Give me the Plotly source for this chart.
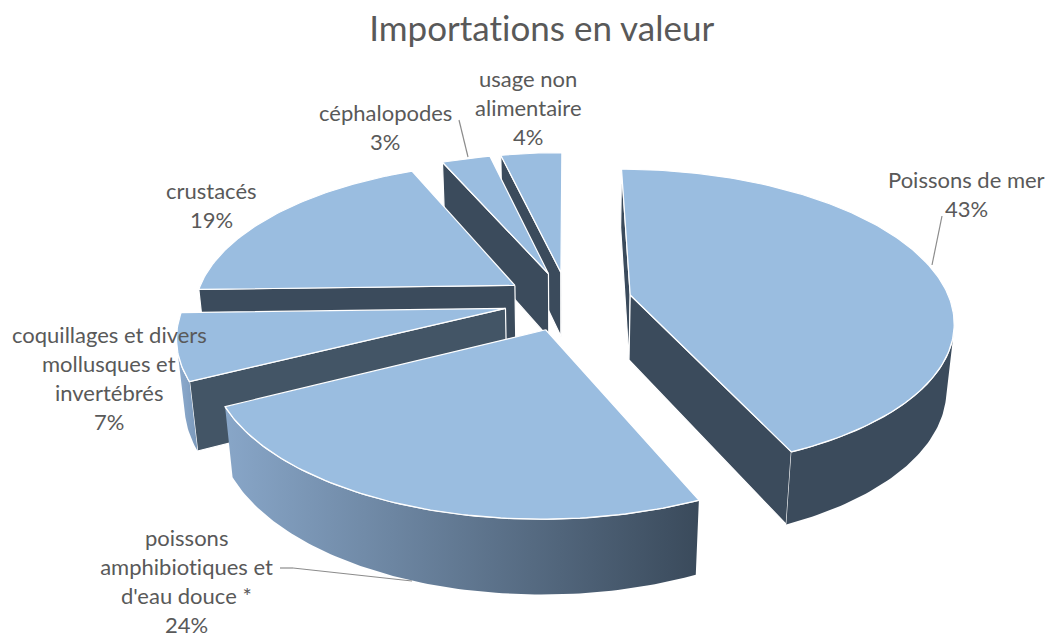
import math
import plotly.graph_objects as go

categories = ["Poissons de mer", "poissons amphibiotiques et d'eau douce *",
              "coquillages et divers mollusques et invertébrés", "crustacés",
              "céphalopodes", "usage non alimentaire"]
values = [43.4, 24.15, 7.0, 18.9, 2.9, 3.65]
label_lines = [["Poissons de mer"], ["poissons", "amphibiotiques et", "d'eau douce *"],
               ["coquillages et divers", "mollusques et", "invertébrés"], ["crustacés"],
               ["céphalopodes"], ["usage non", "alimentaire"]]
label_pos = [(966, 179), (186, 537), (109, 334), (211, 190), (385, 112), (528, 78)]
title = "Importations en valeur"

W, H = 1051, 636
CX, CY, R = 568, 301, 320
TILT = math.radians(27.55)
F = 5.44
HEIGHT = 0.235
EXPLODE = 0.2
START = 0.0
TOP = "#9abde0"
WALL = "#3b4b5c"
WHITE = "#ffffff"
TXT = "#595959"
draw_order = [5, 4, 3, 2, 0, 1]
outer_grad = {1: ("#88a6c8", "#3a4a5b"), 2: ("#8eaccf", "#7a98ba"), 0: (WALL, WALL),
              3: (WALL, WALL), 4: (WALL, WALL), 5: (WALL, WALL)}
radial_col = {2: "#435566"}

cam = (0.0, -F * math.cos(TILT), F * math.sin(TILT))


def proj(x, y, z):
    Y = y * math.sin(TILT) + z * math.cos(TILT)
    D = y * math.cos(TILT) - z * math.sin(TILT)
    s = F / (F + D)
    return CX + R * x * s, CY - R * Y * s


def path(pts):
    xy = [proj(*p) for p in pts]
    return [a for a, _ in xy], [b for _, b in xy]


fig = go.Figure()


def poly(pts, color, line=WHITE, lw=1.2, grad=None, name=""):
    x, y = path(pts)
    kw = dict(fillcolor=color)
    if grad:
        kw = dict(fillgradient=dict(type="horizontal", colorscale=[[0, grad[0]], [1, grad[1]]]))
    fig.add_trace(go.Scatter(x=x + x[:1], y=y + y[:1], mode="lines", fill="toself",
                             line=dict(color=line, width=lw), hoverinfo="skip", name=name,
                             showlegend=False, **kw))


total = sum(values)
cum = 0
wedges = []
for v in values:
    a0 = START + cum / total * 2 * math.pi
    cum += v
    a1 = START + cum / total * 2 * math.pi
    wedges.append((a0, a1))

for i in draw_order:
    a0, a1 = wedges[i]
    mid = (a0 + a1) / 2
    ox, oy = EXPLODE * math.sin(mid), EXPLODE * math.cos(mid)
    n = max(8, int((a1 - a0) * 60))
    angs = [a0 + (a1 - a0) * k / n for k in range(n + 1)]
    arc = [(ox + math.sin(a), oy + math.cos(a)) for a in angs]
    apex = (ox, oy)

    def faces(px, py, nx, ny):
        return (cam[0] - px) * nx + (cam[1] - py) * ny > 0

    col = radial_col.get(i, WALL)
    # radial walls
    if faces(ox, oy, -math.cos(a0), math.sin(a0)):
        p = arc[0]
        poly([(*apex, 0), (*p, 0), (*p, -HEIGHT), (*apex, -HEIGHT)], col, name=categories[i])
    if faces(ox, oy, math.cos(a1), -math.sin(a1)):
        p = arc[-1]
        poly([(*apex, 0), (*p, 0), (*p, -HEIGHT), (*apex, -HEIGHT)], col, name=categories[i])
    # outer wall
    vis = [p for p, a in zip(arc, angs) if faces(p[0], p[1], math.sin(a), math.cos(a))]
    if len(vis) > 1:
        g = outer_grad[i]
        poly([(*p, 0) for p in vis] + [(*p, -HEIGHT) for p in reversed(vis)], g[0],
             line="rgba(255,255,255,0)", lw=0, grad=g if g[0] != g[1] else None, name=categories[i])
        x, y = path([(*p, 0) for p in vis])
        fig.add_trace(go.Scatter(x=x, y=y, mode="lines", line=dict(color=WHITE, width=1.5),
                                 hoverinfo="skip", showlegend=False))
    # top
    poly([(*apex, 0)] + [(*p, 0) for p in arc], TOP, lw=1.2, name=categories[i])

shapes = []
for pts in ([(942, 216), (932, 265)], [(459, 120), (468, 157)],
            [(280, 568), (293, 568), (412, 581)]):
    for a, b in zip(pts, pts[1:]):
        shapes.append(dict(type="line", x0=a[0], y0=a[1], x1=b[0], y1=b[1], xref="x", yref="y",
                           line=dict(color="#8c8c8c", width=1.2)))

ann = []
LINE = 29
FONT = "Lato, Carlito, sans-serif"
for lines, v, (lx, ly) in zip(label_lines, values, label_pos):
    for k, t in enumerate(lines + [f"{round(v)}%"]):
        ann.append(dict(x=lx, y=ly + k * LINE, xref="x", yref="y", text=t, showarrow=False,
                        xanchor="center", yanchor="middle",
                        font=dict(family=FONT, size=22, color=TXT)))
ann.append(dict(x=542, y=27, xref="x", yref="y", text=title, showarrow=False, xanchor="center",
                yanchor="middle", font=dict(family=FONT, size=35, color=TXT)))

fig.update_layout(width=W, height=H, margin=dict(l=0, r=0, t=0, b=0), autosize=False,
                  paper_bgcolor="white", plot_bgcolor="white", showlegend=False,
                  shapes=shapes, annotations=ann,
                  xaxis=dict(range=[0, W], visible=False, fixedrange=True),
                  yaxis=dict(range=[H, 0], visible=False, fixedrange=True))
page_css = ("document.body.style.margin='0';document.body.style.overflow='hidden';"
            "var s=document.createElement('style');"
            "s.textContent='text{font-variant-ligatures:none !important}';"
            "document.head.appendChild(s);")
fig.write_html("out.html", config=dict(displayModeBar=False), post_script=page_css)
